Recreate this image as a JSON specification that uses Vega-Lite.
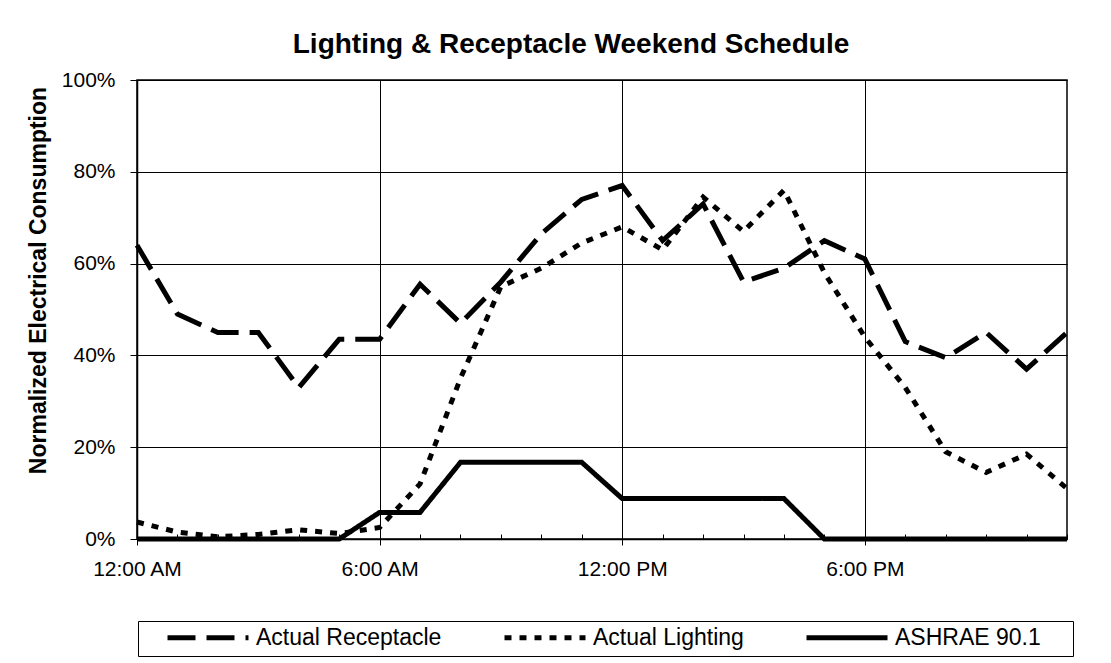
{
  "$schema": "https://vega.github.io/schema/vega-lite/v6.json",
  "width": 930,
  "height": 459,
  "autosize": {"type": "none"},
  "padding": {"left": 137, "top": 80, "right": 44, "bottom": 124},
  "background": "white",
  "title": {
    "text": "Lighting & Receptacle Weekend Schedule",
    "font": "Liberation Sans",
    "fontSize": 28,
    "fontWeight": "bold",
    "color": "black",
    "anchor": "middle",
    "offset": 10,
    "dx": -31
  },
  "config": {
    "view": {"stroke": "black", "strokeWidth": 1.5},
    "font": "Liberation Sans"
  },
  "data": {
    "values": [
      {"hour": 0, "series": "Actual Receptacle", "value": 0.64},
      {"hour": 1, "series": "Actual Receptacle", "value": 0.49},
      {"hour": 2, "series": "Actual Receptacle", "value": 0.45},
      {"hour": 3, "series": "Actual Receptacle", "value": 0.45},
      {"hour": 4, "series": "Actual Receptacle", "value": 0.33},
      {"hour": 5, "series": "Actual Receptacle", "value": 0.435},
      {"hour": 6, "series": "Actual Receptacle", "value": 0.435},
      {"hour": 7, "series": "Actual Receptacle", "value": 0.555},
      {"hour": 8, "series": "Actual Receptacle", "value": 0.47},
      {"hour": 9, "series": "Actual Receptacle", "value": 0.56},
      {"hour": 10, "series": "Actual Receptacle", "value": 0.665},
      {"hour": 11, "series": "Actual Receptacle", "value": 0.74},
      {"hour": 12, "series": "Actual Receptacle", "value": 0.77},
      {"hour": 13, "series": "Actual Receptacle", "value": 0.65},
      {"hour": 14, "series": "Actual Receptacle", "value": 0.73},
      {"hour": 15, "series": "Actual Receptacle", "value": 0.56},
      {"hour": 16, "series": "Actual Receptacle", "value": 0.59},
      {"hour": 17, "series": "Actual Receptacle", "value": 0.65},
      {"hour": 18, "series": "Actual Receptacle", "value": 0.61},
      {"hour": 19, "series": "Actual Receptacle", "value": 0.43},
      {"hour": 20, "series": "Actual Receptacle", "value": 0.395},
      {"hour": 21, "series": "Actual Receptacle", "value": 0.45},
      {"hour": 22, "series": "Actual Receptacle", "value": 0.37},
      {"hour": 23, "series": "Actual Receptacle", "value": 0.45},
      {"hour": 0, "series": "Actual Lighting", "value": 0.037},
      {"hour": 1, "series": "Actual Lighting", "value": 0.015},
      {"hour": 2, "series": "Actual Lighting", "value": 0.005},
      {"hour": 3, "series": "Actual Lighting", "value": 0.01},
      {"hour": 4, "series": "Actual Lighting", "value": 0.02},
      {"hour": 5, "series": "Actual Lighting", "value": 0.012},
      {"hour": 6, "series": "Actual Lighting", "value": 0.025},
      {"hour": 7, "series": "Actual Lighting", "value": 0.12},
      {"hour": 8, "series": "Actual Lighting", "value": 0.35},
      {"hour": 9, "series": "Actual Lighting", "value": 0.55},
      {"hour": 10, "series": "Actual Lighting", "value": 0.59},
      {"hour": 11, "series": "Actual Lighting", "value": 0.645},
      {"hour": 12, "series": "Actual Lighting", "value": 0.68},
      {"hour": 13, "series": "Actual Lighting", "value": 0.63},
      {"hour": 14, "series": "Actual Lighting", "value": 0.745},
      {"hour": 15, "series": "Actual Lighting", "value": 0.67},
      {"hour": 16, "series": "Actual Lighting", "value": 0.76},
      {"hour": 17, "series": "Actual Lighting", "value": 0.58},
      {"hour": 18, "series": "Actual Lighting", "value": 0.44},
      {"hour": 19, "series": "Actual Lighting", "value": 0.33},
      {"hour": 20, "series": "Actual Lighting", "value": 0.19},
      {"hour": 21, "series": "Actual Lighting", "value": 0.145},
      {"hour": 22, "series": "Actual Lighting", "value": 0.185},
      {"hour": 23, "series": "Actual Lighting", "value": 0.11},
      {"hour": 0, "series": "ASHRAE 90.1", "value": 0},
      {"hour": 1, "series": "ASHRAE 90.1", "value": 0},
      {"hour": 2, "series": "ASHRAE 90.1", "value": 0},
      {"hour": 3, "series": "ASHRAE 90.1", "value": 0},
      {"hour": 4, "series": "ASHRAE 90.1", "value": 0},
      {"hour": 5, "series": "ASHRAE 90.1", "value": 0},
      {"hour": 6, "series": "ASHRAE 90.1", "value": 0.058},
      {"hour": 7, "series": "ASHRAE 90.1", "value": 0.058},
      {"hour": 8, "series": "ASHRAE 90.1", "value": 0.167},
      {"hour": 9, "series": "ASHRAE 90.1", "value": 0.167},
      {"hour": 10, "series": "ASHRAE 90.1", "value": 0.167},
      {"hour": 11, "series": "ASHRAE 90.1", "value": 0.167},
      {"hour": 12, "series": "ASHRAE 90.1", "value": 0.088},
      {"hour": 13, "series": "ASHRAE 90.1", "value": 0.088},
      {"hour": 14, "series": "ASHRAE 90.1", "value": 0.088},
      {"hour": 15, "series": "ASHRAE 90.1", "value": 0.088},
      {"hour": 16, "series": "ASHRAE 90.1", "value": 0.088},
      {"hour": 17, "series": "ASHRAE 90.1", "value": 0},
      {"hour": 18, "series": "ASHRAE 90.1", "value": 0},
      {"hour": 19, "series": "ASHRAE 90.1", "value": 0},
      {"hour": 20, "series": "ASHRAE 90.1", "value": 0},
      {"hour": 21, "series": "ASHRAE 90.1", "value": 0},
      {"hour": 22, "series": "ASHRAE 90.1", "value": 0},
      {"hour": 23, "series": "ASHRAE 90.1", "value": 0}
    ]
  },
  "mark": {"type": "line", "color": "black", "strokeWidth": 5, "strokeCap": "butt", "strokeJoin": "miter"},
  "encoding": {
    "x": {
      "field": "hour",
      "type": "quantitative",
      "scale": {"domain": [0, 23], "nice": false, "zero": false},
      "axis": {
        "title": null,
        "values": [0,1,2,3,4,5,6,7,8,9,10,11,12,13,14,15,16,17,18,19,20,21,22,23],
        "labelExpr": "datum.value == 0 ? '12:00 AM' : datum.value == 6 ? '6:00 AM' : datum.value == 12 ? '12:00 PM' : datum.value == 18 ? '6:00 PM' : ''",
        "labelFont": "Liberation Sans",
        "labelFontSize": 21,
        "labelColor": "black",
        "labelPadding": 13,
        "labelFlush": false,
        "labelOverlap": false,
        "domainColor": "black",
        "domainWidth": 1.5,
        "tickColor": "black",
        "tickWidth": 1,
        "tickSize": {"condition": {"test": "datum.value % 6 === 0", "value": 6}, "value": -5},
        "grid": true,
        "gridColor": "black",
        "gridWidth": 1,
        "gridOpacity": {"condition": {"test": "datum.value % 6 === 0", "value": 1}, "value": 0}
      }
    },
    "y": {
      "field": "value",
      "type": "quantitative",
      "scale": {"domain": [0, 1], "nice": false},
      "axis": {
        "title": "Normalized Electrical Consumption",
        "titleFont": "Liberation Sans",
        "titleFontSize": 23,
        "titleFontWeight": "bold",
        "titleColor": "black",
        "titleAngle": -90,
        "titleX": -92,
        "titleY": 200,
        "titleAlign": "center",
        "titleBaseline": "alphabetic",
        "values": [0, 0.2, 0.4, 0.6, 0.8, 1],
        "format": ".0%",
        "labelFont": "Liberation Sans",
        "labelFontSize": 21,
        "labelColor": "black",
        "labelPadding": 15,
        "domainColor": "black",
        "domainWidth": 1.5,
        "tickColor": "black",
        "tickSize": 7,
        "grid": true,
        "gridColor": "black",
        "gridWidth": 1
      }
    },
    "strokeDash": {
      "field": "series",
      "type": "nominal",
      "scale": {
        "domain": ["Actual Receptacle", "Actual Lighting", "ASHRAE 90.1"],
        "range": [[28, 11], [7, 8], [1, 0]]
      },
      "legend": {
        "title": " ",
        "titleOrient": "left",
        "titlePadding": 21,
        "titleFontSize": 20,
        "orient": "none",
        "legendX": 1,
        "legendY": 541,
        "direction": "horizontal",
        "columns": 3,
        "columnPadding": 60,
        "strokeColor": "black",
        "padding": 6,
        "symbolType": "stroke",
        "symbolSize": 6561,
        "clipHeight": 21,
        "symbolStrokeWidth": 5,
        "symbolStrokeColor": "black",
        "labelFont": "Liberation Sans",
        "labelFontSize": 23,
        "labelColor": "black",
        "labelOffset": 5,
        "labelLimit": 400,
        "labelExpr": "datum.value == 'ASHRAE 90.1' ? datum.label + '\u00a0\u00a0\u00a0\u00a0\u200b' : datum.label"
      }
    }
  }
}
